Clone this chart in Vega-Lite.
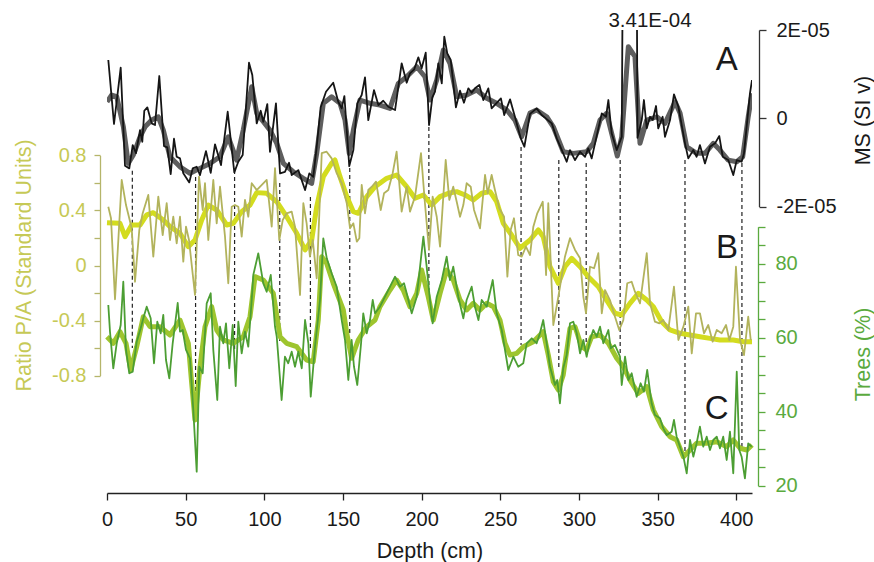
{
"$schema":"https://vega.github.io/schema/vega-lite/v6.json",
"width":645,"height":463,"autosize":"none",
"padding":{"left":107,"top":30,"right":122,"bottom":69},
"config":{"view":{"stroke":null},"font":"Liberation Sans","axis":{"grid":false,"labelFont":"Liberation Sans","titleFont":"Liberation Sans","titleFontWeight":"normal","labelFlush":false,"labelOverlap":false,"labelBound":false}},
"datasets":{
"dashes":[{"depth":16.1,"top":0.687,"bottom":-0.599},{"depth":56.3,"top":0.643,"bottom":-1.053},{"depth":81.1,"top":0.694,"bottom":-0.617},{"depth":109.8,"top":0.599,"bottom":-0.563},{"depth":129.3,"top":0.497,"bottom":-0.617},{"depth":154.3,"top":0.708,"bottom":-0.49},{"depth":204.6,"top":1.006,"bottom":-0.178},{"depth":263.2,"top":0.861,"bottom":-0.577},{"depth":287.2,"top":0.766,"bottom":-0.759},{"depth":304.6,"top":0.744,"bottom":-0.563},{"depth":326.2,"top":0.766,"bottom":-0.635},{"depth":367.4,"top":0.766,"bottom":-1.412},{"depth":403.6,"top":0.744,"bottom":-1.34}],
"ms_raw":[{"depth":0.83,"ms":1.32e-5},{"depth":4.45,"ms":-0.13e-5},{"depth":8.71,"ms":1.145e-5},{"depth":11.44,"ms":-1.077e-5},{"depth":14.17,"ms":-1.136e-5},{"depth":16.34,"ms":-0.608e-5},{"depth":18.43,"ms":-0.789e-5},{"depth":20.98,"ms":-0.268e-5},{"depth":22.44,"ms":-0.533e-5},{"depth":23.71,"ms":0.17e-5},{"depth":25.62,"ms":0.247e-5},{"depth":28.41,"ms":-0.116e-5},{"depth":30.51,"ms":-0.154e-5},{"depth":33.24,"ms":0.957e-5},{"depth":36.23,"ms":-0.63e-5},{"depth":38.33,"ms":-0.66e-5},{"depth":40.49,"ms":-1.265e-5},{"depth":42.59,"ms":-0.465e-5},{"depth":44.3,"ms":-0.873e-5},{"depth":46.4,"ms":-0.909e-5},{"depth":48.5,"ms":-1.249e-5},{"depth":52.31,"ms":-1.454e-5},{"depth":54.47,"ms":-1.136e-5},{"depth":57.02,"ms":-1.1e-5},{"depth":59.12,"ms":-1.288e-5},{"depth":62.93,"ms":-0.744e-5},{"depth":65.92,"ms":-1.236e-5},{"depth":68.65,"ms":-0.592e-5},{"depth":72.46,"ms":-1.061e-5},{"depth":76.72,"ms":0.147e-5},{"depth":80.92,"ms":-1.227e-5},{"depth":83.46,"ms":-0.986e-5},{"depth":86.26,"ms":-0.834e-5},{"depth":90.26,"ms":1.259e-5},{"depth":92.36,"ms":0.98e-5},{"depth":95.16,"ms":-0.116e-5},{"depth":97.7,"ms":0.17e-5},{"depth":99.35,"ms":-0.079e-5},{"depth":101.9,"ms":0.322e-5},{"depth":103.6,"ms":-0.76e-5},{"depth":107.4,"ms":0.338e-5},{"depth":110,"ms":-1.249e-5},{"depth":113.1,"ms":-1.213e-5},{"depth":115.7,"ms":-1.009e-5},{"depth":117.4,"ms":-1.288e-5},{"depth":121.6,"ms":-1.175e-5},{"depth":125.9,"ms":-1.628e-5},{"depth":128.6,"ms":-1.249e-5},{"depth":131.1,"ms":-1.327e-5},{"depth":133.3,"ms":-0.646e-5},{"depth":135.8,"ms":0.247e-5},{"depth":139.2,"ms":0.601e-5},{"depth":143.8,"ms":0.805e-5},{"depth":147,"ms":0.374e-5},{"depth":149.2,"ms":0.224e-5},{"depth":150.9,"ms":0.503e-5},{"depth":154,"ms":-1.084e-5},{"depth":156.6,"ms":-0.721e-5},{"depth":159.1,"ms":0.338e-5},{"depth":161.9,"ms":0.526e-5},{"depth":164,"ms":0.927e-5},{"depth":166.1,"ms":-0.041e-5},{"depth":169.7,"ms":0.639e-5},{"depth":172.5,"ms":0.299e-5},{"depth":175.6,"ms":0.397e-5},{"depth":178.8,"ms":0.261e-5},{"depth":183.1,"ms":0.186e-5},{"depth":187.3,"ms":1.245e-5},{"depth":190.5,"ms":0.805e-5},{"depth":192.6,"ms":1.018e-5},{"depth":195.3,"ms":1.109e-5},{"depth":197.9,"ms":1.381e-5},{"depth":200,"ms":1.132e-5},{"depth":202.6,"ms":1.485e-5},{"depth":204.7,"ms":-0.154e-5},{"depth":206.8,"ms":0.474e-5},{"depth":208.5,"ms":0.601e-5},{"depth":210.6,"ms":1.245e-5},{"depth":212.8,"ms":0.791e-5},{"depth":214.4,"ms":1.848e-5},{"depth":216.3,"ms":1.472e-5},{"depth":218.5,"ms":1.32e-5},{"depth":221.8,"ms":0.247e-5},{"depth":224.4,"ms":0.624e-5},{"depth":226.9,"ms":0.351e-5},{"depth":229.7,"ms":0.678e-5},{"depth":231.8,"ms":0.578e-5},{"depth":233.9,"ms":0.678e-5},{"depth":236.7,"ms":0.753e-5},{"depth":239.2,"ms":0.413e-5},{"depth":242.4,"ms":0.678e-5},{"depth":244.5,"ms":0.224e-5},{"depth":250.4,"ms":0.451e-5},{"depth":252.5,"ms":0.073e-5},{"depth":256.2,"ms":0.429e-5},{"depth":259.3,"ms":0.034e-5},{"depth":263,"ms":-0.456e-5},{"depth":265.3,"ms":-0.646e-5},{"depth":268.9,"ms":0.1e-5},{"depth":273.1,"ms":0.224e-5},{"depth":276.3,"ms":0.073e-5},{"depth":282.7,"ms":-0.116e-5},{"depth":285.9,"ms":-0.456e-5},{"depth":290,"ms":-0.796e-5},{"depth":292.2,"ms":-0.986e-5},{"depth":294.3,"ms":-0.721e-5},{"depth":297.5,"ms":-0.948e-5},{"depth":300.7,"ms":-0.76e-5},{"depth":303.9,"ms":-0.873e-5},{"depth":305.9,"ms":-0.683e-5},{"depth":308.1,"ms":-0.909e-5},{"depth":314.5,"ms":0.111e-5},{"depth":317.2,"ms":0.034e-5},{"depth":318.7,"ms":0.413e-5},{"depth":320.8,"ms":-0.342e-5},{"depth":324,"ms":-0.721e-5},{"depth":327.2,"ms":-0.42e-5},{"depth":333.1,"ms":34.1e-5},{"depth":337.2,"ms":-0.442e-5},{"depth":339.9,"ms":-0.041e-5},{"depth":341.3,"ms":0.413e-5},{"depth":343.1,"ms":-0.229e-5},{"depth":345.2,"ms":0.034e-5},{"depth":346.9,"ms":-0.041e-5},{"depth":349,"ms":0.277e-5},{"depth":350.4,"ms":-0.229e-5},{"depth":353.2,"ms":0.034e-5},{"depth":354.7,"ms":-0.42e-5},{"depth":357.9,"ms":-0.041e-5},{"depth":360.4,"ms":0.542e-5},{"depth":363.2,"ms":0.261e-5},{"depth":367.4,"ms":-0.569e-5},{"depth":369.5,"ms":-0.909e-5},{"depth":372.7,"ms":-0.721e-5},{"depth":374.8,"ms":-0.873e-5},{"depth":376.9,"ms":-0.608e-5},{"depth":380.1,"ms":-1.023e-5},{"depth":383.3,"ms":-0.646e-5},{"depth":386.5,"ms":-0.569e-5},{"depth":389.2,"ms":-0.404e-5},{"depth":391.4,"ms":-0.873e-5},{"depth":394.9,"ms":-0.948e-5},{"depth":398.1,"ms":-1.288e-5},{"depth":400.3,"ms":-0.948e-5},{"depth":403.4,"ms":-0.986e-5},{"depth":404.9,"ms":-0.796e-5},{"depth":408.7,"ms":0.565e-5},{"depth":410,"ms":0.866e-5}],
"ms_smooth":[{"depth":0,"ms":0.374e-5},{"depth":3,"ms":0.526e-5},{"depth":6.2,"ms":0.488e-5},{"depth":10.4,"ms":-0.193e-5},{"depth":13.5,"ms":-1.023e-5},{"depth":16.7,"ms":-0.834e-5},{"depth":21,"ms":-0.42e-5},{"depth":24.2,"ms":-0.193e-5},{"depth":28.4,"ms":-0.041e-5},{"depth":32.6,"ms":0.034e-5},{"depth":35.8,"ms":-0.268e-5},{"depth":40,"ms":-0.873e-5},{"depth":46.4,"ms":-1.1e-5},{"depth":52.8,"ms":-1.249e-5},{"depth":59.1,"ms":-1.136e-5},{"depth":65.5,"ms":-1.023e-5},{"depth":71.8,"ms":-0.873e-5},{"depth":77.1,"ms":-0.42e-5},{"depth":82.4,"ms":-0.948e-5},{"depth":86.6,"ms":-0.268e-5},{"depth":92,"ms":0.714e-5},{"depth":95.2,"ms":0.111e-5},{"depth":99.4,"ms":-0.079e-5},{"depth":103.6,"ms":-0.268e-5},{"depth":107.9,"ms":-0.569e-5},{"depth":112.1,"ms":-1.023e-5},{"depth":118.4,"ms":-1.213e-5},{"depth":124.8,"ms":-1.363e-5},{"depth":130.1,"ms":-1.476e-5},{"depth":133.3,"ms":-0.796e-5},{"depth":137.5,"ms":0.338e-5},{"depth":142.8,"ms":0.488e-5},{"depth":148.1,"ms":0.338e-5},{"depth":151.3,"ms":-0.041e-5},{"depth":154,"ms":-0.796e-5},{"depth":156.6,"ms":-0.268e-5},{"depth":160.8,"ms":0.413e-5},{"depth":167.2,"ms":0.338e-5},{"depth":173.5,"ms":0.299e-5},{"depth":179.9,"ms":0.224e-5},{"depth":185.2,"ms":0.791e-5},{"depth":190.5,"ms":0.941e-5},{"depth":196.9,"ms":1.168e-5},{"depth":202.1,"ms":0.941e-5},{"depth":205.3,"ms":0.413e-5},{"depth":209.6,"ms":0.866e-5},{"depth":213.8,"ms":1.546e-5},{"depth":218,"ms":1.245e-5},{"depth":222.3,"ms":0.488e-5},{"depth":228.6,"ms":0.526e-5},{"depth":235,"ms":0.639e-5},{"depth":241.4,"ms":0.451e-5},{"depth":247.7,"ms":0.338e-5},{"depth":254.1,"ms":0.186e-5},{"depth":259.3,"ms":-0.041e-5},{"depth":263.6,"ms":-0.42e-5},{"depth":268.9,"ms":0.118e-5},{"depth":273.1,"ms":0.186e-5},{"depth":279.5,"ms":0.034e-5},{"depth":283.7,"ms":-0.193e-5},{"depth":290,"ms":-0.76e-5},{"depth":296.4,"ms":-0.796e-5},{"depth":304.9,"ms":-0.76e-5},{"depth":309.1,"ms":-0.569e-5},{"depth":313.4,"ms":-0.041e-5},{"depth":317.6,"ms":0.111e-5},{"depth":320.8,"ms":-0.342e-5},{"depth":324.4,"ms":-0.857e-5},{"depth":327.2,"ms":-0.42e-5},{"depth":331.4,"ms":1.621e-5},{"depth":335.6,"ms":1.395e-5},{"depth":338.8,"ms":-0.569e-5},{"depth":343.1,"ms":-0.041e-5},{"depth":349.4,"ms":0.034e-5},{"depth":354.7,"ms":-0.116e-5},{"depth":361.1,"ms":0.374e-5},{"depth":364.3,"ms":0.111e-5},{"depth":368.5,"ms":-0.646e-5},{"depth":374.8,"ms":-0.796e-5},{"depth":380.1,"ms":-0.796e-5},{"depth":385.4,"ms":-0.569e-5},{"depth":389.6,"ms":-0.721e-5},{"depth":394.9,"ms":-0.948e-5},{"depth":400.3,"ms":-0.986e-5},{"depth":404.1,"ms":-0.873e-5},{"depth":407.6,"ms":0.034e-5},{"depth":410,"ms":0.565e-5}],
"pa_raw":[{"depth":0.83,"pa":0.427},{"depth":2.54,"pa":0.343},{"depth":5.09,"pa":-0.245},{"depth":9.34,"pa":0.621},{"depth":12.08,"pa":0.439},{"depth":15.7,"pa":0.27},{"depth":17.8,"pa":-0.118},{"depth":20.53,"pa":0.258},{"depth":22.69,"pa":0.379},{"depth":26.25,"pa":0.512},{"depth":29.43,"pa":0.064},{"depth":32.61,"pa":0.5},{"depth":35.41,"pa":0.221},{"depth":37.95,"pa":0.452},{"depth":40.05,"pa":0.185},{"depth":42.14,"pa":0.354},{"depth":44.3,"pa":0.161},{"depth":46.4,"pa":0.354},{"depth":48.5,"pa":0.028},{"depth":50.22,"pa":0.282},{"depth":52.12,"pa":0.185},{"depth":55.94,"pa":-0.214},{"depth":58.48,"pa":0.645},{"depth":60.83,"pa":0.403},{"depth":62.29,"pa":0.597},{"depth":64.39,"pa":0.185},{"depth":67.57,"pa":0.621},{"depth":69.73,"pa":0.306},{"depth":71.83,"pa":0.572},{"depth":75.01,"pa":0.209},{"depth":77.1,"pa":-0.129},{"depth":79.27,"pa":0.427},{"depth":81.36,"pa":0.439},{"depth":83.46,"pa":0.427},{"depth":85.62,"pa":0.209},{"depth":87.72,"pa":0.476},{"depth":89.82,"pa":0.354},{"depth":91.98,"pa":0.597},{"depth":95.16,"pa":0.548},{"depth":101.5,"pa":0.621},{"depth":104.7,"pa":0.282},{"depth":106.8,"pa":0.706},{"depth":109.5,"pa":0.185},{"depth":111.7,"pa":0.33},{"depth":114.2,"pa":0.379},{"depth":117.4,"pa":0.391},{"depth":119.5,"pa":0.282},{"depth":122.7,"pa":-0.214},{"depth":124.8,"pa":0.452},{"depth":126.9,"pa":0.306},{"depth":129,"pa":0.064},{"depth":130.8,"pa":0.185},{"depth":133.3,"pa":-0.093},{"depth":136.5,"pa":0.815},{"depth":139.6,"pa":0.826},{"depth":142.8,"pa":0.778},{"depth":146,"pa":0.67},{"depth":149.2,"pa":0.597},{"depth":152.4,"pa":0.452},{"depth":154.5,"pa":0.27},{"depth":156.6,"pa":0.306},{"depth":158.8,"pa":0.173},{"depth":160.4,"pa":0.198},{"depth":161.9,"pa":0.585},{"depth":164,"pa":0.379},{"depth":166.1,"pa":0.548},{"depth":168.3,"pa":0.572},{"depth":171,"pa":0.609},{"depth":174,"pa":0.403},{"depth":176.1,"pa":0.524},{"depth":178.8,"pa":0.548},{"depth":181.6,"pa":0.67},{"depth":184.1,"pa":0.826},{"depth":187.3,"pa":0.391},{"depth":190.5,"pa":0.572},{"depth":192.6,"pa":0.391},{"depth":195.8,"pa":0.5},{"depth":199.6,"pa":0.815},{"depth":202.1,"pa":0.452},{"depth":204.7,"pa":0.113},{"depth":207,"pa":0.5},{"depth":209.6,"pa":0.354},{"depth":211.7,"pa":0.137},{"depth":215.3,"pa":0.766},{"depth":217.6,"pa":0.476},{"depth":220.1,"pa":0.572},{"depth":222.3,"pa":0.463},{"depth":224.4,"pa":0.354},{"depth":226.5,"pa":0.439},{"depth":228.6,"pa":0.597},{"depth":231.2,"pa":0.572},{"depth":233.3,"pa":0.403},{"depth":237.1,"pa":0.27},{"depth":240.3,"pa":0.657},{"depth":242,"pa":0.524},{"depth":244.5,"pa":0.657},{"depth":246.6,"pa":0.548},{"depth":249.4,"pa":0.415},{"depth":252.4,"pa":0.354},{"depth":254.5,"pa":-0.081},{"depth":256.6,"pa":0.258},{"depth":258.7,"pa":0.343},{"depth":261.4,"pa":0.076},{"depth":263.6,"pa":0.064},{"depth":266.3,"pa":0.137},{"depth":268.9,"pa":0.076},{"depth":271,"pa":0.282},{"depth":273.5,"pa":0.379},{"depth":277,"pa":0.463},{"depth":279.1,"pa":-0.069},{"depth":280.5,"pa":0.452},{"depth":283.7,"pa":-0.432},{"depth":286.9,"pa":-0.227},{"depth":289,"pa":-0.081},{"depth":291.1,"pa":0.064},{"depth":294.3,"pa":0.198},{"depth":297.5,"pa":0.113},{"depth":300.7,"pa":0.052},{"depth":302.8,"pa":-0.227},{"depth":304.5,"pa":-0.347},{"depth":307,"pa":-0.009},{"depth":309.6,"pa":-0.02},{"depth":312.3,"pa":0.089},{"depth":314.5,"pa":-0.347},{"depth":316.6,"pa":-0.178},{"depth":319.7,"pa":-0.251},{"depth":322.9,"pa":-0.372},{"depth":325.6,"pa":-0.468},{"depth":328.2,"pa":-0.396},{"depth":330.7,"pa":-0.129},{"depth":333.5,"pa":-0.118},{"depth":335.6,"pa":-0.19},{"depth":338.8,"pa":-0.275},{"depth":343.1,"pa":0.089},{"depth":345.2,"pa":-0.275},{"depth":348.3,"pa":-0.408},{"depth":351.1,"pa":-0.42},{"depth":353.6,"pa":-0.396},{"depth":356.8,"pa":-0.468},{"depth":360.4,"pa":-0.154},{"depth":363.2,"pa":-0.541},{"depth":366.4,"pa":-0.444},{"depth":369.5,"pa":-0.299},{"depth":371.7,"pa":-0.638},{"depth":374.4,"pa":-0.347},{"depth":376.9,"pa":-0.347},{"depth":379.5,"pa":-0.492},{"depth":382.2,"pa":-0.432},{"depth":385,"pa":-0.553},{"depth":387.6,"pa":-0.468},{"depth":390.7,"pa":-0.492},{"depth":393.5,"pa":-0.432},{"depth":395.6,"pa":-0.541},{"depth":398.1,"pa":-0.444},{"depth":399.8,"pa":-0.009},{"depth":402.4,"pa":-0.541},{"depth":404.9,"pa":-0.65},{"depth":407.6,"pa":-0.372},{"depth":409.2,"pa":-0.541}],
"pa_smooth":[{"depth":0,"pa":0.311},{"depth":8.26,"pa":0.306},{"depth":11.44,"pa":0.209},{"depth":15.7,"pa":0.294},{"depth":20.98,"pa":0.294},{"depth":25.24,"pa":0.367},{"depth":29.43,"pa":0.383},{"depth":35.79,"pa":0.33},{"depth":40.05,"pa":0.282},{"depth":46.4,"pa":0.234},{"depth":51.68,"pa":0.137},{"depth":55.94,"pa":0.185},{"depth":60.2,"pa":0.33},{"depth":64.39,"pa":0.439},{"depth":69.73,"pa":0.403},{"depth":76.09,"pa":0.294},{"depth":80.28,"pa":0.306},{"depth":85.62,"pa":0.391},{"depth":90.9,"pa":0.439},{"depth":95.16,"pa":0.529},{"depth":101.5,"pa":0.524},{"depth":107.9,"pa":0.463},{"depth":114.2,"pa":0.354},{"depth":120.6,"pa":0.234},{"depth":125.9,"pa":0.113},{"depth":130.1,"pa":0.185},{"depth":133.3,"pa":0.427},{"depth":137.5,"pa":0.645},{"depth":142.8,"pa":0.742},{"depth":144.9,"pa":0.766},{"depth":148.1,"pa":0.645},{"depth":152.4,"pa":0.5},{"depth":156.6,"pa":0.391},{"depth":159.8,"pa":0.379},{"depth":165.1,"pa":0.5},{"depth":170.4,"pa":0.572},{"depth":177.8,"pa":0.633},{"depth":184.1,"pa":0.657},{"depth":190.5,"pa":0.572},{"depth":195.8,"pa":0.488},{"depth":201.1,"pa":0.512},{"depth":206.4,"pa":0.439},{"depth":211.7,"pa":0.5},{"depth":217,"pa":0.524},{"depth":222.3,"pa":0.536},{"depth":227.6,"pa":0.512},{"depth":232.8,"pa":0.476},{"depth":238.2,"pa":0.524},{"depth":243.5,"pa":0.536},{"depth":247.7,"pa":0.463},{"depth":251.9,"pa":0.306},{"depth":257.2,"pa":0.221},{"depth":262.5,"pa":0.125},{"depth":268.9,"pa":0.185},{"depth":274.2,"pa":0.258},{"depth":277.3,"pa":0.209},{"depth":281.6,"pa":-0.009},{"depth":286.9,"pa":-0.129},{"depth":291.1,"pa":-0.009},{"depth":295.4,"pa":0.052},{"depth":300.7,"pa":-0.009},{"depth":305.9,"pa":-0.081},{"depth":312.3,"pa":-0.154},{"depth":317.6,"pa":-0.251},{"depth":322.9,"pa":-0.347},{"depth":327.2,"pa":-0.359},{"depth":332.4,"pa":-0.275},{"depth":337.7,"pa":-0.202},{"depth":343.1,"pa":-0.251},{"depth":347.3,"pa":-0.299},{"depth":352.6,"pa":-0.408},{"depth":357.9,"pa":-0.468},{"depth":364.3,"pa":-0.492},{"depth":370.6,"pa":-0.505},{"depth":376.9,"pa":-0.517},{"depth":383.3,"pa":-0.529},{"depth":389.6,"pa":-0.541},{"depth":398.1,"pa":-0.541},{"depth":404.5,"pa":-0.553},{"depth":410,"pa":-0.553}],
"trees_raw":[{"depth":0.83,"trees":68.84},{"depth":1.91,"trees":61.62},{"depth":4,"trees":51.73},{"depth":6.17,"trees":58.49},{"depth":8.71,"trees":63.43},{"depth":10.36,"trees":75.14},{"depth":12.08,"trees":56.68},{"depth":14.17,"trees":50.38},{"depth":16.34,"trees":50.81},{"depth":18.88,"trees":58.92},{"depth":21.42,"trees":62.54},{"depth":23.07,"trees":65.24},{"depth":25.24,"trees":68.38},{"depth":27.78,"trees":65.24},{"depth":29.88,"trees":53.08},{"depth":31.97,"trees":64.32},{"depth":34.13,"trees":61.19},{"depth":35.79,"trees":66.14},{"depth":37.5,"trees":53.97},{"depth":39.6,"trees":49.03},{"depth":41.76,"trees":58.49},{"depth":44.94,"trees":69.38},{"depth":46.4,"trees":61.62},{"depth":48.12,"trees":62.08},{"depth":50.22,"trees":56.68},{"depth":52.76,"trees":54.43},{"depth":54.86,"trees":40.46},{"depth":57.02,"trees":23.78},{"depth":58.67,"trees":52.16},{"depth":60.83,"trees":50.38},{"depth":63.37,"trees":69.3},{"depth":65.92,"trees":72},{"depth":67.57,"trees":56.68},{"depth":70.11,"trees":43.16},{"depth":71.83,"trees":62.97},{"depth":73.93,"trees":58.49},{"depth":75.64,"trees":63.89},{"depth":77.74,"trees":51.73},{"depth":79.9,"trees":63.43},{"depth":81.81,"trees":46.95},{"depth":83.46,"trees":64.32},{"depth":85.62,"trees":55.78},{"depth":87.72,"trees":61.62},{"depth":89.82,"trees":57.57},{"depth":91.98,"trees":70.19},{"depth":92.99,"trees":76.95},{"depth":96.17,"trees":82.81},{"depth":99.35,"trees":74.7},{"depth":101.5,"trees":72.43},{"depth":104.1,"trees":76.95},{"depth":106.8,"trees":62.97},{"depth":107.9,"trees":60.27},{"depth":111,"trees":43.16},{"depth":113.1,"trees":54.86},{"depth":115.2,"trees":53.08},{"depth":117.4,"trees":56.22},{"depth":119.5,"trees":52.16},{"depth":121.6,"trees":56.22},{"depth":123.8,"trees":51.73},{"depth":125.9,"trees":64.78},{"depth":128,"trees":58.49},{"depth":129.5,"trees":44.05},{"depth":132.2,"trees":57.57},{"depth":135.4,"trees":70.19},{"depth":137.5,"trees":86.86},{"depth":139.7,"trees":81.46},{"depth":142.8,"trees":77.41},{"depth":146,"trees":73.78},{"depth":149.2,"trees":64.78},{"depth":151.3,"trees":59.38},{"depth":153.4,"trees":48.57},{"depth":155.5,"trees":59.38},{"depth":157,"trees":52.16},{"depth":159.1,"trees":47.22},{"depth":161.5,"trees":58.49},{"depth":162.9,"trees":66.59},{"depth":165.1,"trees":61.19},{"depth":167.2,"trees":64.78},{"depth":168.9,"trees":70.19},{"depth":170.4,"trees":66.59},{"depth":173.5,"trees":68.38},{"depth":176.7,"trees":71.08},{"depth":179.9,"trees":73.78},{"depth":183.1,"trees":76.49},{"depth":186.2,"trees":73.78},{"depth":188.8,"trees":74.7},{"depth":190.5,"trees":72},{"depth":193.7,"trees":66.59},{"depth":196.9,"trees":71.08},{"depth":201.1,"trees":87.3},{"depth":203.2,"trees":79.19},{"depth":205.3,"trees":70.19},{"depth":207,"trees":63.89},{"depth":209.6,"trees":71.08},{"depth":212.8,"trees":75.59},{"depth":215.9,"trees":81.89},{"depth":218,"trees":75.59},{"depth":220.1,"trees":79.19},{"depth":223.3,"trees":71.08},{"depth":226.5,"trees":65.24},{"depth":228.6,"trees":70.19},{"depth":231.8,"trees":73.78},{"depth":233.9,"trees":68.38},{"depth":236.1,"trees":64.78},{"depth":238.2,"trees":70.19},{"depth":241.4,"trees":68.38},{"depth":245.2,"trees":75.59},{"depth":247.7,"trees":66.59},{"depth":250.9,"trees":62.08},{"depth":255.1,"trees":51.27},{"depth":258.3,"trees":54.86},{"depth":261.4,"trees":52.16},{"depth":264.6,"trees":53.08},{"depth":266.8,"trees":58.49},{"depth":270,"trees":59.84},{"depth":273.1,"trees":58.49},{"depth":275.2,"trees":61.19},{"depth":277.3,"trees":64.78},{"depth":279.5,"trees":58.49},{"depth":281.6,"trees":52.16},{"depth":284.8,"trees":47.22},{"depth":286.2,"trees":48.57},{"depth":287.9,"trees":42.27},{"depth":290,"trees":51.73},{"depth":292.2,"trees":55.32},{"depth":294.3,"trees":63.89},{"depth":296.4,"trees":64.32},{"depth":298.6,"trees":61.19},{"depth":300.7,"trees":55.78},{"depth":302.8,"trees":59.38},{"depth":304.9,"trees":54.86},{"depth":307,"trees":59.38},{"depth":309.1,"trees":62.08},{"depth":311.3,"trees":60.27},{"depth":313.4,"trees":62.97},{"depth":315.5,"trees":58.49},{"depth":318.7,"trees":62.08},{"depth":320.2,"trees":57.14},{"depth":322.9,"trees":58.03},{"depth":326.1,"trees":54.86},{"depth":327.2,"trees":47.22},{"depth":329.3,"trees":54.86},{"depth":331.4,"trees":48.57},{"depth":333.5,"trees":50.38},{"depth":336.7,"trees":44.05},{"depth":339.2,"trees":47.68},{"depth":341.3,"trees":45.41},{"depth":343.4,"trees":51.27},{"depth":346.2,"trees":42.27},{"depth":348.3,"trees":39.11},{"depth":351.5,"trees":38.22},{"depth":353.6,"trees":35.51},{"depth":355.8,"trees":33.7},{"depth":358.9,"trees":34.59},{"depth":360.4,"trees":37.76},{"depth":362.1,"trees":33.24},{"depth":364.2,"trees":30.54},{"depth":366.4,"trees":27.84},{"depth":368.5,"trees":23.35},{"depth":370.6,"trees":32.35},{"depth":372.7,"trees":27.84},{"depth":374.8,"trees":31.46},{"depth":376.9,"trees":35.95},{"depth":379,"trees":30.54},{"depth":381.2,"trees":33.24},{"depth":383.3,"trees":29.65},{"depth":385.4,"trees":32.35},{"depth":387.6,"trees":33.24},{"depth":389.6,"trees":30.11},{"depth":391.7,"trees":33.24},{"depth":393.9,"trees":26.95},{"depth":396,"trees":34.59},{"depth":398.1,"trees":23.35},{"depth":400.3,"trees":50.81},{"depth":401.9,"trees":29.65},{"depth":403.4,"trees":27.84},{"depth":405.5,"trees":22},{"depth":407.6,"trees":31.46},{"depth":409.8,"trees":30.54}],
"trees_smooth":[{"depth":0,"trees":60.27},{"depth":4,"trees":58.49},{"depth":8.26,"trees":61.62},{"depth":12.08,"trees":58.49},{"depth":15.07,"trees":51.27},{"depth":18.88,"trees":57.57},{"depth":23.07,"trees":65.68},{"depth":27.33,"trees":62.97},{"depth":33.69,"trees":62.97},{"depth":40.05,"trees":60.73},{"depth":46.4,"trees":64.78},{"depth":51.68,"trees":58.49},{"depth":53.84,"trees":47.68},{"depth":55.94,"trees":37.76},{"depth":59.12,"trees":52.16},{"depth":62.29,"trees":62.97},{"depth":66.55,"trees":68.38},{"depth":69.73,"trees":62.08},{"depth":73.93,"trees":59.38},{"depth":80.28,"trees":58.49},{"depth":86.64,"trees":60.27},{"depth":90.9,"trees":65.68},{"depth":94.07,"trees":76.49},{"depth":99.35,"trees":75.59},{"depth":105.7,"trees":72},{"depth":110,"trees":60.27},{"depth":114.2,"trees":58.49},{"depth":120.6,"trees":57.57},{"depth":126.9,"trees":53.97},{"depth":131.1,"trees":53.51},{"depth":134.3,"trees":64.78},{"depth":136.5,"trees":81.89},{"depth":139.6,"trees":80.11},{"depth":143.8,"trees":74.7},{"depth":150.2,"trees":67.49},{"depth":152.4,"trees":61.19},{"depth":155.5,"trees":54.43},{"depth":159.7,"trees":59.38},{"depth":165.1,"trees":62.97},{"depth":170.4,"trees":64.78},{"depth":173.5,"trees":68.38},{"depth":179.9,"trees":72.89},{"depth":184.1,"trees":75.59},{"depth":188.3,"trees":72.89},{"depth":192.6,"trees":68.38},{"depth":196.9,"trees":72},{"depth":200,"trees":78.3},{"depth":204.2,"trees":71.08},{"depth":207.4,"trees":64.78},{"depth":211.7,"trees":72},{"depth":215.9,"trees":78.3},{"depth":220.1,"trees":75.59},{"depth":224.4,"trees":70.19},{"depth":228.6,"trees":67.49},{"depth":232.8,"trees":69.3},{"depth":237.1,"trees":67.49},{"depth":241.4,"trees":69.3},{"depth":245.6,"trees":68.38},{"depth":249.8,"trees":64.78},{"depth":253,"trees":58.49},{"depth":256.2,"trees":55.32},{"depth":260.5,"trees":55.78},{"depth":264.6,"trees":57.57},{"depth":271,"trees":58.92},{"depth":277.3,"trees":61.62},{"depth":280.5,"trees":55.32},{"depth":283.7,"trees":48.11},{"depth":286.9,"trees":45.86},{"depth":290,"trees":49.92},{"depth":294.3,"trees":62.54},{"depth":297.5,"trees":62.97},{"depth":301.7,"trees":57.57},{"depth":304.9,"trees":56.68},{"depth":308.1,"trees":60.27},{"depth":313.4,"trees":60.73},{"depth":318.7,"trees":58.49},{"depth":324,"trees":54.43},{"depth":328.2,"trees":52.16},{"depth":332.4,"trees":48.57},{"depth":337.7,"trees":44.97},{"depth":343.1,"trees":46.76},{"depth":347.3,"trees":40.46},{"depth":352.6,"trees":35.95},{"depth":357.9,"trees":33.24},{"depth":362.1,"trees":32.35},{"depth":366.4,"trees":27.84},{"depth":370.6,"trees":29.65},{"depth":374.8,"trees":31.46},{"depth":381.2,"trees":31.46},{"depth":387.6,"trees":31.89},{"depth":393.9,"trees":30.54},{"depth":398.1,"trees":32.35},{"depth":402.4,"trees":30.11},{"depth":406.7,"trees":29.65},{"depth":410,"trees":31}],
"letters":[{"depth":393.9,"pos":1.494,"label":"A"},{"depth":394.1,"pos":0.13,"label":"B"},{"depth":387.6,"pos":-1.039,"label":"C"}],
"peak":[{"depth":345.2,"ms":2.197e-5,"label":"3.41E-04"}]
},
"encoding":{"x":{"field":"depth","type":"quantitative","scale":{"domain":[0,410],"nice":false,"zero":false},"axis":{"values":[0,50,100,150,200,250,300,350,400],"title":"Depth (cm)","domainColor":"#222222","tickColor":"#222222","domainWidth":1.3,"tickWidth":1.3,"tickSize":7,"labelFontSize":20,"labelColor":"#1a1a1a","labelPadding":9,"titleFontSize":21.5,"titleColor":"#1a1a1a","titleY":64,"titleBaseline":"alphabetic"}}},
"layer":[
{"data":{"name":"dashes"},"mark":{"type":"rule","color":"#222222","strokeWidth":1.2,"strokeDash":[4,3]},"encoding":{"y":{"field":"top","type":"quantitative","scale":{"domain":[-0.8,0.8],"range":[345.7,125.3],"nice":false,"zero":false},"axis":null},"y2":{"field":"bottom"}}},
{"data":{"name":"ms_smooth"},"mark":{"type":"line","color":"#5e5e5e","strokeWidth":5,"strokeJoin":"round","clip":true},"encoding":{"y":{"field":"ms","type":"quantitative","scale":{"domain":[-2e-5,2e-5],"range":[176.5,0],"nice":false,"zero":false},"axis":null}}},
{"data":{"name":"ms_raw"},"mark":{"type":"line","color":"#151515","strokeWidth":1.8,"strokeJoin":"round","clip":true},"encoding":{"y":{"field":"ms","type":"quantitative","scale":{"domain":[-2e-5,2e-5],"range":[176.5,0],"nice":false,"zero":false},"axis":{"orient":"right","offset":7,"values":[-2e-5,0,2e-5],"labelExpr":"datum.value > 0 ? '2E-05' : (datum.value < 0 ? '-2E-05' : '0')","title":"MS (SI v)","domainColor":"#333333","tickColor":"#333333","domainWidth":1.3,"tickWidth":1.3,"tickSize":7,"labelPadding":10,"labelFontSize":20,"labelColor":"#1a1a1a","titleFontSize":21.5,"titleColor":"#1a1a1a","titleAngle":-90,"titleX":104,"titleY":90,"titleAlign":"center","titleBaseline":"middle"}}}},
{"data":{"name":"pa_smooth"},"mark":{"type":"line","color":"#d3dc1f","strokeWidth":5,"strokeJoin":"round"},"encoding":{"y":{"field":"pa","type":"quantitative","scale":{"domain":[-0.8,0.8],"range":[345.7,125.3],"nice":false,"zero":false},"axis":null}}},
{"data":{"name":"pa_raw"},"mark":{"type":"line","color":"#b2b35c","strokeWidth":1.8,"strokeJoin":"round"},"encoding":{"y":{"field":"pa","type":"quantitative","scale":{"domain":[-0.8,0.8],"range":[345.7,125.3],"nice":false,"zero":false},"axis":{"orient":"left","offset":7,"values":[-0.8,-0.6,-0.4,-0.2,0,0.2,0.4,0.6,0.8],"labelExpr":"abs(round(datum.value*10)) % 4 == 0 ? (datum.value == 0 ? '0' : (datum.value < 0 ? '-' : '') + format(abs(datum.value), '.1f')) : ''","title":"Ratio P/A (Standard Units)","domainColor":"#b5b56a","tickColor":"#b5b56a","domainWidth":1.3,"tickWidth":1.3,"tickSize":6,"labelPadding":8,"labelFontSize":20,"labelColor":"#c6c956","titleFontSize":21.5,"titleColor":"#c6c956","titleAngle":-90,"titleX":-76,"titleY":235,"titleAlign":"center","titleBaseline":"middle"}}}},
{"data":{"name":"trees_smooth"},"mark":{"type":"line","color":"#9ec52e","strokeWidth":5,"strokeJoin":"round"},"encoding":{"y":{"field":"trees","type":"quantitative","scale":{"domain":[20,90],"range":[455.7,196.7],"nice":false,"zero":false},"axis":null}}},
{"data":{"name":"trees_raw"},"mark":{"type":"line","color":"#4c9e33","strokeWidth":1.8,"strokeJoin":"round"},"encoding":{"y":{"field":"trees","type":"quantitative","scale":{"domain":[20,90],"range":[455.7,196.7],"nice":false,"zero":false},"axis":{"orient":"right","offset":6,"values":[20,25,30,35,40,45,50,55,60,65,70,75,80,85,90],"labelExpr":"datum.value % 20 == 0 ? '' + datum.value : ''","title":"Trees (%)","domainColor":"#5aaa3e","tickColor":"#5aaa3e","domainWidth":1.3,"tickWidth":1.3,"tickSize":7,"labelPadding":10,"labelFontSize":20,"labelColor":"#5aaa3e","titleFontSize":21.5,"titleColor":"#5aaa3e","titleAngle":-90,"titleX":105,"titleY":324,"titleAlign":"center","titleBaseline":"middle"}}}},
{"data":{"name":"letters"},"mark":{"type":"text","fontSize":33,"color":"#1a1a1a","align":"center","baseline":"middle","font":"Liberation Sans"},"encoding":{"y":{"field":"pos","type":"quantitative","scale":{"domain":[-0.8,0.8],"range":[345.7,125.3],"nice":false,"zero":false},"axis":null},"text":{"field":"label"}}},
{"data":{"name":"peak"},"mark":{"type":"text","fontSize":20.5,"color":"#1a1a1a","align":"center","baseline":"middle","font":"Liberation Sans"},"encoding":{"y":{"field":"ms","type":"quantitative","scale":{"domain":[-2e-5,2e-5],"range":[176.5,0],"nice":false,"zero":false},"axis":null},"text":{"field":"label"}}}
],
"resolve":{"scale":{"y":"independent"},"axis":{"y":"independent"}}
}
